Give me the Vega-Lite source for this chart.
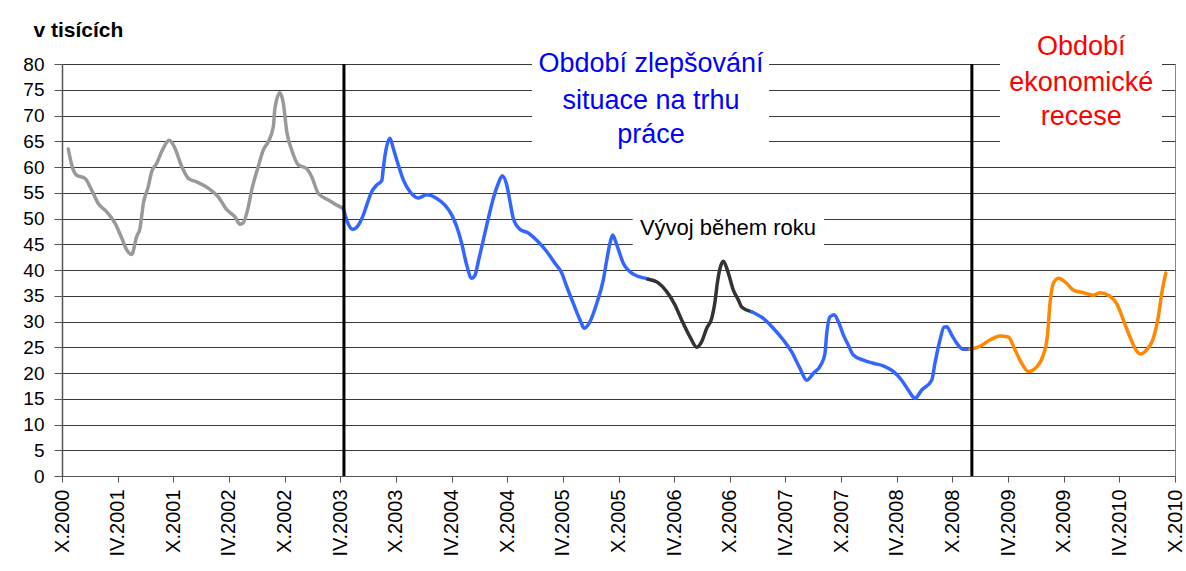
{
  "$schema": "https://vega.github.io/schema/vega-lite/v6.json",
  "autosize": "none",
  "width": 1113,
  "height": 412,
  "padding": {"left": 62, "top": 64, "right": 11, "bottom": 95},
  "background": "white",
  "config": {
    "font": "Liberation Sans",
    "view": {"stroke": "#888888", "strokeWidth": 1}
  },
  "resolve": {"scale": {"color": "independent"}},
  "datasets": {
    "series": [
      {"m":0.68,"v":63.5,"s":"2000-2003"},{"m":1.05,"v":60.4,"s":"2000-2003"},{"m":1.58,"v":58.4,"s":"2000-2003"},{"m":2.48,"v":57.8,"s":"2000-2003"},{"m":3.20,"v":55.5,"s":"2000-2003"},{"m":3.91,"v":52.9,"s":"2000-2003"},{"m":4.82,"v":51.3,"s":"2000-2003"},{"m":5.71,"v":49.1,"s":"2000-2003"},{"m":6.44,"v":46.2,"s":"2000-2003"},{"m":6.98,"v":43.9,"s":"2000-2003"},{"m":7.51,"v":43.0,"s":"2000-2003"},{"m":8.05,"v":46.5,"s":"2000-2003"},{"m":8.41,"v":48.1,"s":"2000-2003"},{"m":8.77,"v":52.9,"s":"2000-2003"},{"m":9.30,"v":56.2,"s":"2000-2003"},{"m":9.67,"v":59.1,"s":"2000-2003"},{"m":10.21,"v":60.7,"s":"2000-2003"},{"m":10.75,"v":63.0,"s":"2000-2003"},{"m":11.57,"v":65.2,"s":"2000-2003"},{"m":12.11,"v":63.9,"s":"2000-2003"},{"m":12.91,"v":60.1,"s":"2000-2003"},{"m":13.62,"v":57.8,"s":"2000-2003"},{"m":14.52,"v":57.1,"s":"2000-2003"},{"m":15.77,"v":55.9,"s":"2000-2003"},{"m":16.85,"v":54.2,"s":"2000-2003"},{"m":17.76,"v":51.7,"s":"2000-2003"},{"m":18.65,"v":50.3,"s":"2000-2003"},{"m":19.19,"v":48.9,"s":"2000-2003"},{"m":19.55,"v":49.2,"s":"2000-2003"},{"m":20.09,"v":52.3,"s":"2000-2003"},{"m":20.45,"v":55.5,"s":"2000-2003"},{"m":21.16,"v":60.1,"s":"2000-2003"},{"m":21.70,"v":63.3,"s":"2000-2003"},{"m":22.24,"v":64.9,"s":"2000-2003"},{"m":22.78,"v":67.8,"s":"2000-2003"},{"m":22.96,"v":71.4,"s":"2000-2003"},{"m":23.50,"v":74.4,"s":"2000-2003"},{"m":23.86,"v":72.4,"s":"2000-2003"},{"m":24.23,"v":66.9,"s":"2000-2003"},{"m":24.77,"v":63.3,"s":"2000-2003"},{"m":25.48,"v":60.4,"s":"2000-2003"},{"m":26.38,"v":59.7,"s":"2000-2003"},{"m":26.92,"v":58.1,"s":"2000-2003"},{"m":27.63,"v":54.9,"s":"2000-2003"},{"m":28.71,"v":53.6,"s":"2000-2003"},{"m":29.62,"v":52.6,"s":"2000-2003"},{"m":30.33,"v":52.0,"s":"2000-2003"},

      {"m":30.33,"v":52.0,"s":"2003-2005"},{"m":30.70,"v":49.7,"s":"2003-2005"},{"m":31.34,"v":47.9,"s":"2003-2005"},{"m":31.95,"v":48.7,"s":"2003-2005"},{"m":32.49,"v":50.7,"s":"2003-2005"},{"m":32.85,"v":52.6,"s":"2003-2005"},{"m":33.39,"v":55.2,"s":"2003-2005"},{"m":33.93,"v":56.5,"s":"2003-2005"},{"m":34.47,"v":57.3,"s":"2003-2005"},{"m":34.64,"v":59.7,"s":"2003-2005"},{"m":34.83,"v":62.3,"s":"2003-2005"},{"m":35.36,"v":65.6,"s":"2003-2005"},{"m":35.72,"v":63.6,"s":"2003-2005"},{"m":36.26,"v":60.4,"s":"2003-2005"},{"m":36.80,"v":57.5,"s":"2003-2005"},{"m":37.52,"v":55.2,"s":"2003-2005"},{"m":38.42,"v":54.0,"s":"2003-2005"},{"m":39.32,"v":54.6,"s":"2003-2005"},{"m":40.40,"v":53.9,"s":"2003-2005"},{"m":41.29,"v":52.6,"s":"2003-2005"},{"m":42.02,"v":50.7,"s":"2003-2005"},{"m":42.56,"v":48.4,"s":"2003-2005"},{"m":43.09,"v":45.2,"s":"2003-2005"},{"m":43.63,"v":41.0,"s":"2003-2005"},{"m":44.17,"v":38.4,"s":"2003-2005"},{"m":44.53,"v":39.0,"s":"2003-2005"},{"m":44.88,"v":41.6,"s":"2003-2005"},{"m":45.42,"v":45.8,"s":"2003-2005"},{"m":45.96,"v":50.0,"s":"2003-2005"},{"m":46.50,"v":53.9,"s":"2003-2005"},{"m":47.04,"v":56.8,"s":"2003-2005"},{"m":47.47,"v":58.3,"s":"2003-2005"},{"m":47.95,"v":56.5,"s":"2003-2005"},{"m":48.30,"v":53.3,"s":"2003-2005"},{"m":48.66,"v":50.0,"s":"2003-2005"},{"m":49.38,"v":47.9,"s":"2003-2005"},{"m":50.27,"v":47.2,"s":"2003-2005"},{"m":51.18,"v":45.8,"s":"2003-2005"},{"m":52.26,"v":43.6,"s":"2003-2005"},{"m":53.15,"v":41.3,"s":"2003-2005"},{"m":53.88,"v":39.4,"s":"2003-2005"},{"m":54.41,"v":36.8,"s":"2003-2005"},{"m":55.13,"v":33.5,"s":"2003-2005"},{"m":55.85,"v":30.3,"s":"2003-2005"},{"m":56.31,"v":28.7,"s":"2003-2005"},{"m":56.93,"v":30.0,"s":"2003-2005"},{"m":57.65,"v":33.5,"s":"2003-2005"},{"m":58.36,"v":38.1,"s":"2003-2005"},{"m":58.73,"v":41.9,"s":"2003-2005"},{"m":59.08,"v":45.2,"s":"2003-2005"},{"m":59.37,"v":46.8,"s":"2003-2005"},{"m":59.81,"v":44.9,"s":"2003-2005"},{"m":60.52,"v":41.3,"s":"2003-2005"},{"m":61.60,"v":39.2,"s":"2003-2005"},{"m":63.04,"v":38.3,"s":"2003-2005"},{"m":63.21,"v":38.2,"s":"2003-2005"},

      {"m":63.21,"v":38.2,"s":"2006"},{"m":64.29,"v":37.5,"s":"2006"},{"m":65.20,"v":35.8,"s":"2006"},{"m":66.09,"v":33.2,"s":"2006"},{"m":66.81,"v":30.3,"s":"2006"},{"m":67.71,"v":27.0,"s":"2006"},{"m":68.43,"v":25.0,"s":"2006"},{"m":68.97,"v":26.1,"s":"2006"},{"m":69.51,"v":28.7,"s":"2006"},{"m":70.05,"v":30.6,"s":"2006"},{"m":70.40,"v":33.8,"s":"2006"},{"m":70.65,"v":37.4,"s":"2006"},{"m":70.94,"v":40.3,"s":"2006"},{"m":71.30,"v":41.7,"s":"2006"},{"m":71.84,"v":39.4,"s":"2006"},{"m":72.38,"v":36.1,"s":"2006"},{"m":72.92,"v":34.2,"s":"2006"},{"m":73.28,"v":32.8,"s":"2006"},{"m":74.36,"v":31.9,"s":"2006"},

      {"m":74.36,"v":31.9,"s":"2007-2008"},{"m":75.61,"v":30.6,"s":"2007-2008"},{"m":76.69,"v":28.7,"s":"2007-2008"},{"m":77.77,"v":26.4,"s":"2007-2008"},{"m":78.67,"v":24.1,"s":"2007-2008"},{"m":79.57,"v":20.9,"s":"2007-2008"},{"m":80.29,"v":18.6,"s":"2007-2008"},{"m":81.00,"v":19.9,"s":"2007-2008"},{"m":81.91,"v":21.9,"s":"2007-2008"},{"m":82.26,"v":23.8,"s":"2007-2008"},{"m":82.45,"v":27.7,"s":"2007-2008"},{"m":82.80,"v":30.9,"s":"2007-2008"},{"m":83.24,"v":31.3,"s":"2007-2008"},{"m":83.70,"v":30.0,"s":"2007-2008"},{"m":84.24,"v":27.4,"s":"2007-2008"},{"m":84.78,"v":25.4,"s":"2007-2008"},{"m":85.32,"v":23.5,"s":"2007-2008"},{"m":86.40,"v":22.5,"s":"2007-2008"},{"m":87.47,"v":21.9,"s":"2007-2008"},{"m":88.55,"v":21.4,"s":"2007-2008"},{"m":89.63,"v":20.3,"s":"2007-2008"},{"m":90.53,"v":18.6,"s":"2007-2008"},{"m":91.24,"v":16.7,"s":"2007-2008"},{"m":91.97,"v":15.1,"s":"2007-2008"},{"m":92.69,"v":16.7,"s":"2007-2008"},{"m":93.77,"v":18.6,"s":"2007-2008"},{"m":94.12,"v":21.9,"s":"2007-2008"},{"m":94.66,"v":26.4,"s":"2007-2008"},{"m":95.09,"v":28.9,"s":"2007-2008"},{"m":95.38,"v":29.0,"s":"2007-2008"},{"m":95.92,"v":27.4,"s":"2007-2008"},{"m":96.46,"v":25.8,"s":"2007-2008"},{"m":97.17,"v":24.6,"s":"2007-2008"},{"m":97.89,"v":24.6,"s":"2007-2008"},

      {"m":97.89,"v":24.6,"s":"2008-2010"},{"m":98.98,"v":25.2,"s":"2008-2010"},{"m":100.05,"v":26.4,"s":"2008-2010"},{"m":101.13,"v":27.2,"s":"2008-2010"},{"m":102.03,"v":27.0,"s":"2008-2010"},{"m":102.75,"v":24.5,"s":"2008-2010"},{"m":103.47,"v":21.9,"s":"2008-2010"},{"m":104.18,"v":20.3,"s":"2008-2010"},{"m":105.09,"v":21.2,"s":"2008-2010"},{"m":105.80,"v":23.5,"s":"2008-2010"},{"m":106.23,"v":27.0,"s":"2008-2010"},{"m":106.52,"v":33.5,"s":"2008-2010"},{"m":106.88,"v":37.4,"s":"2008-2010"},{"m":107.42,"v":38.4,"s":"2008-2010"},{"m":108.14,"v":37.7,"s":"2008-2010"},{"m":109.04,"v":36.1,"s":"2008-2010"},{"m":110.11,"v":35.6,"s":"2008-2010"},{"m":111.19,"v":35.1,"s":"2008-2010"},{"m":111.91,"v":35.6,"s":"2008-2010"},{"m":112.81,"v":35.1,"s":"2008-2010"},{"m":113.71,"v":33.5,"s":"2008-2010"},{"m":114.43,"v":30.3,"s":"2008-2010"},{"m":115.15,"v":27.0,"s":"2008-2010"},{"m":115.69,"v":24.8,"s":"2008-2010"},{"m":116.23,"v":23.7,"s":"2008-2010"},{"m":116.95,"v":24.5,"s":"2008-2010"},{"m":117.66,"v":26.7,"s":"2008-2010"},{"m":118.20,"v":30.9,"s":"2008-2010"},{"m":118.57,"v":35.5,"s":"2008-2010"},{"m":119.01,"v":39.4,"s":"2008-2010"}
    ],
    "boxes": [
      {"m": 50.67, "m2": 76.23, "v": 63.3, "v2": 84},
      {"m": 61.53, "m2": 82.16, "v": 43.9, "v2": 53.0},
      {"m": 101.13, "m2": 118.6, "v": 64.8, "v2": 88}
    ],
    "dividers": [{"m": 30.4}, {"m": 98.1}],
    "bigLabels": [
      {"m": 63.5, "v": 80.0, "label": "Období zlepšování", "g": "zlepšování"},
      {"m": 63.5, "v": 72.8, "label": "situace na trhu", "g": "zlepšování"},
      {"m": 63.5, "v": 66.2, "label": "práce", "g": "zlepšování"},
      {"m": 109.9, "v": 83.3, "label": "Období", "g": "recese"},
      {"m": 109.9, "v": 76.3, "label": "ekonomické", "g": "recese"},
      {"m": 109.9, "v": 69.7, "label": "recese", "g": "recese"}
    ],
    "smallLabels": [
      {"m": 71.8, "v": 48.2, "label": "Vývoj během roku"}
    ]
  },
  "encoding": {
    "x": {
      "field": "m", "type": "quantitative",
      "scale": {"domain": [0, 120], "nice": false, "zero": false},
      "axis": {
        "values": [0,6,12,18,24,30,36,42,48,54,60,66,72,78,84,90,96,102,108,114,120],
        "labelExpr": "(datum.value % 12 == 0 ? 'X.' : 'IV.') + (2000 + floor((datum.value + 9) / 12))",
        "labelAngle": -90, "labelAlign": "right", "labelBaseline": "middle",
        "labelFontSize": 20, "labelColor": "black", "labelPadding": 7,
        "tickSize": 6, "tickColor": "#555555", "domainColor": "#555555",
        "grid": false, "title": null, "labelOverlap": false, "labelBound": false, "labelFlush": false
      }
    },
    "y": {
      "field": "v", "type": "quantitative",
      "scale": {"domain": [0, 80], "nice": false},
      "axis": {
        "values": [0,5,10,15,20,25,30,35,40,45,50,55,60,65,70,75,80],
        "labelFontSize": 19, "labelColor": "black", "labelPadding": 10,
        "tickSize": 8, "tickColor": "#555555", "domainColor": "#555555", "domainWidth": 1.5,
        "grid": true, "gridColor": "#3a3a3a", "gridWidth": 1, "gridOpacity": 1,
        "title": "v tisících", "titleAngle": 0, "titleAlign": "left", "titleBaseline": "middle",
        "titleX": -29, "titleY": -34, "titleFontSize": 21, "titleFontWeight": "bold", "titleColor": "black",
        "labelFlush": false
      }
    }
  },
  "layer": [
    {
      "data": {"name": "boxes"},
      "mark": {"type": "rect", "fill": "white", "stroke": null},
      "encoding": {
        "x2": {"field": "m2"},
        "y2": {"field": "v2"}
      }
    },
    {
      "data": {"name": "series"},
      "mark": {"type": "line", "strokeWidth": 3.5, "interpolate": "monotone", "strokeJoin": "round", "strokeCap": "round"},
      "encoding": {
        "color": {
          "field": "s", "type": "nominal",
          "scale": {"domain": ["2000-2003", "2003-2005", "2006", "2007-2008", "2008-2010"],
                    "range": ["#999999", "#3366ff", "#333333", "#3366ff", "#ff8800"]},
          "legend": null
        },
        "detail": {"field": "s"}
      }
    },
    {
      "data": {"name": "dividers"},
      "mark": {"type": "rule", "color": "black", "strokeWidth": 3},
      "encoding": {"y": null}
    },
    {
      "data": {"name": "bigLabels"},
      "mark": {"type": "text", "fontSize": 27, "align": "center", "baseline": "middle"},
      "encoding": {
        "text": {"field": "label"},
        "color": {"field": "g", "type": "nominal", "scale": {"domain": ["zlepšování", "recese"], "range": ["#0000ff", "#ff0000"]}, "legend": null}
      }
    },
    {
      "data": {"name": "smallLabels"},
      "mark": {"type": "text", "fontSize": 22, "align": "center", "baseline": "middle", "color": "black"},
      "encoding": {"text": {"field": "label"}}
    }
  ]
}
